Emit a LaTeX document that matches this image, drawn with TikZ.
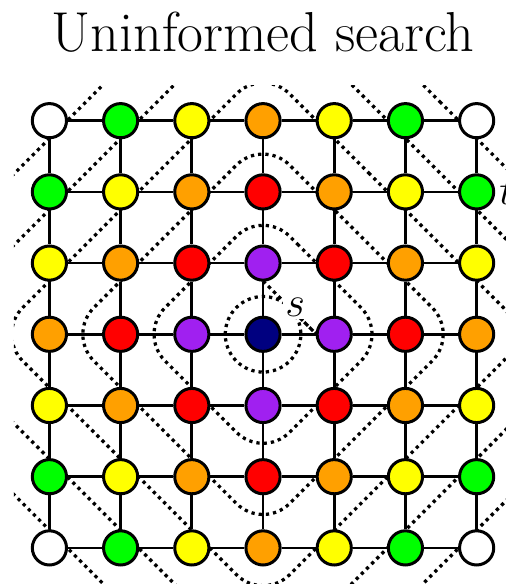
\RequirePackage{fix-cm}
\documentclass[tikz,border=0pt]{standalone}
\usetikzlibrary{backgrounds}

% colours by distance from s
\definecolor{dist0}{RGB}{0,0,128}
\definecolor{dist1}{RGB}{160,32,240}
\definecolor{dist2}{RGB}{255,0,0}
\definecolor{dist3}{RGB}{255,160,0}
\definecolor{dist4}{RGB}{255,255,0}
\definecolor{dist5}{RGB}{0,255,0}
\definecolor{dist6}{RGB}{255,255,255}

\tikzset{
  state/.style={circle, draw, line width=1.2pt, minimum size=0.48cm, inner sep=0pt},
  grid edge/.style={line width=1.1pt},
  contour/.style={line width=1.3pt, dash pattern=on 1.3pt off 1.6pt, rounded corners=0.53cm},
}

\begin{document}
\begin{tikzpicture}
    \useasboundingbox (-3.694,-3.521) rectangle (3.399,4.695);

    % Title
    \node[anchor=base, font=\fontsize{22.5}{27}\selectfont] (title) at (0,3.965) {Uninformed search};

    % Grid nodes, coloured by distance from s
    \foreach \i in {0,...,6} {
        \foreach \j in {0,...,6} {
            \pgfmathtruncatemacro\d{abs(\i-3)+abs(\j-3)}
            \node[state, fill=dist\d] (v-\i-\j) at (\i-3,3-\j) {};
        }
    }

    % Labels
    \node[fill=white, inner sep=1pt, font=\fontsize{17}{20}\selectfont] (s) at (0.45,0.38) {$s$};
    \node[anchor=west, inner sep=1.5pt, font=\fontsize{17}{20}\selectfont] (t) at (v-6-1.east) {$t$}; % cut off by the border

    % Edges and distance contours, behind the nodes
    \begin{scope}[on background layer]
        \clip (-3.5,-3.5) rectangle (3.5,3.5);
        \foreach \k in {0,...,5} {
            \pgfmathsetmacro\r{\k+0.75}
            \draw[contour] (\r/2,\r/2) -- (0,\r) -- (-\r,0) -- (0,-\r) -- (\r,0) -- cycle;
        }
        \foreach \i in {0,...,6} {
            \foreach \j [evaluate=\j as \jn using int(\j+1)] in {0,...,5} {
                \draw[grid edge] (v-\i-\j) -- (v-\i-\jn);
                \draw[grid edge] (v-\j-\i) -- (v-\jn-\i);
            }
        }
    \end{scope}

\end{tikzpicture}
\end{document}
